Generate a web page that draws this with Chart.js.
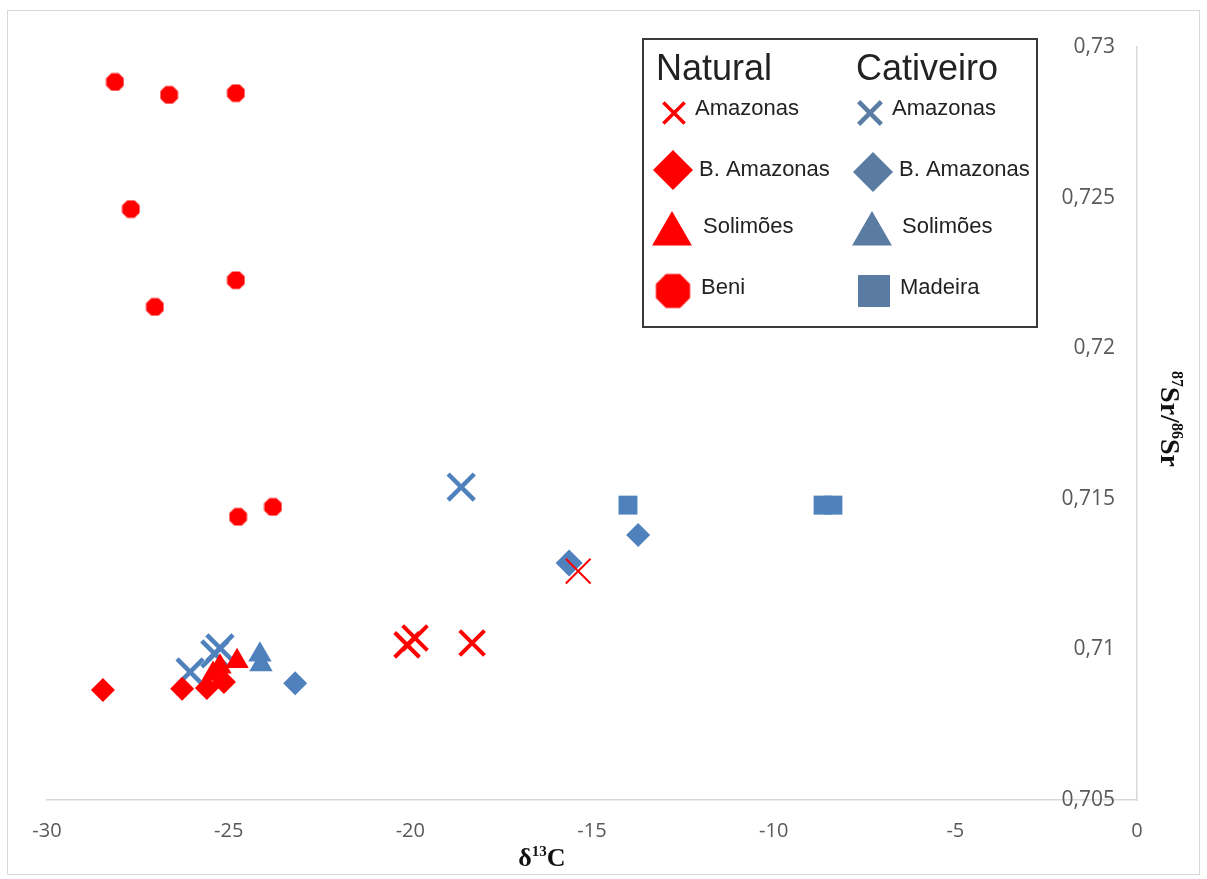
<!DOCTYPE html>
<html>
<head>
<meta charset="utf-8">
<script src="https://cdn.jsdelivr.net/npm/chart.js@4.4.1/dist/chart.umd.min.js"></script>
<style>
  html, body { margin: 0; padding: 0; background: #fff; }
</style>
</head>
<body>
<canvas id="isoChart" width="1207" height="879"></canvas>
<script>
// --- data ---
const xTicks = [-30, -25, -20, -15, -10, -5, 0];
const xTickLabels = ['-30', '-25', '-20', '-15', '-10', '-5', '0'];
const yTicks = [0.705, 0.71, 0.715, 0.72, 0.725, 0.73];
const yTickLabels = ['0,705', '0,71', '0,715', '0,72', '0,725', '0,73'];

// Natural
const natAmazonasX = [-20.09, -19.87, -18.30, -15.38];
const natAmazonasY = [0.71015, 0.71038, 0.71021, 0.71260];
const natBAmazonasX = [-28.46, -26.28, -25.60, -25.13];
const natBAmazonasY = [0.70865, 0.70869, 0.70872, 0.70892];
const natSolimoesX = [-24.77, -25.24, -25.43];
const natSolimoesY = [0.70961, 0.70942, 0.70918];
const natBeniX = [-28.13, -26.64, -24.80, -27.69, -27.03, -24.80, -24.74, -23.78];
const natBeniY = [0.72884, 0.72841, 0.72847, 0.72462, 0.72137, 0.72226, 0.71440, 0.71473];

// Cativeiro
const catAmazonasX = [-18.60, -26.06, -25.24, -25.38];
const catAmazonasY = [0.71539, 0.70925, 0.71005, 0.70985];
const catBAmazonasX = [-23.17, -15.63, -13.73];
const catBAmazonasY = [0.70888, 0.71287, 0.71380];
const catSolimoesX = [-24.14, -24.11];
const catSolimoesY = [0.70982, 0.70950];
const catMadeiraX = [-14.01, -8.64, -8.37];
const catMadeiraY = [0.71479, 0.71479, 0.71479];

const legendNatural = ['Amazonas', 'B. Amazonas', 'Solimões', 'Beni'];
const legendCativeiro = ['Amazonas', 'B. Amazonas', 'Solimões', 'Madeira'];

// colours
const red = '#FF0000';
const blue = '#4F81BD';
const legendBlue = '#5A7CA3';

function pts(xs, ys) {
    return xs.map(function (x, i) { return { x: x, y: ys[i] }; });
}

// octagon marker (no built-in point style for it)
function octagon(d, color) {
    const c = document.createElement('canvas');
    c.width = d; c.height = d;
    const g = c.getContext('2d');
    const r = d / 2;
    g.fillStyle = color;
    g.beginPath();
    for (let i = 0; i < 8; i++) {
        const a = Math.PI / 8 + i * Math.PI / 4;
        const px = r + r * Math.cos(a), py = r + r * Math.sin(a);
        if (i === 0) g.moveTo(px, py); else g.lineTo(px, py);
    }
    g.closePath();
    g.fill();
    return c;
}
const octSmall = octagon(19, red);
const octBig = octagon(37, red);

// custom legend box
const legendBox = {
    id: 'legendBox',
    afterDraw(chart) {
        const ctx = chart.ctx;
        const draw = Chart.helpers.drawPoint;
        ctx.save();
        ctx.fillStyle = '#fff';
        ctx.fillRect(643, 39, 394, 288);
        ctx.lineWidth = 2;
        ctx.strokeStyle = '#3a3a3a';
        ctx.strokeRect(643, 39, 394, 288);

        ctx.fillStyle = '#222';
        ctx.textBaseline = 'alphabetic';
        ctx.font = '36px "Liberation Sans", Arial, sans-serif';
        ctx.fillText('Natural', 656, 80);
        ctx.fillText('Cativeiro', 856, 80);

        const rowY = [113, 170, 230, 291];
        const textY = [109, 170, 227, 288];
        const natTextX = [695, 699, 703, 701];
        const catTextX = [892, 899, 902, 900];

        // natural markers
        ctx.fillStyle = red; ctx.strokeStyle = red;
        ctx.lineWidth = 3.5;
        draw(ctx, { pointStyle: 'crossRot', radius: 15, borderWidth: 3.5, rotation: 0 }, 674, rowY[0]);
        draw(ctx, { pointStyle: 'rectRot', radius: 20, borderWidth: 0, rotation: 0 }, 673, rowY[1]);
        draw(ctx, { pointStyle: 'triangle', radius: 23, borderWidth: 0, rotation: 0 }, 672, rowY[2] + 4);
        draw(ctx, { pointStyle: octBig, radius: 18, rotation: 0 }, 673, rowY[3]);

        // cativeiro markers
        ctx.fillStyle = legendBlue; ctx.strokeStyle = legendBlue;
        ctx.lineWidth = 4.5;
        draw(ctx, { pointStyle: 'crossRot', radius: 16, borderWidth: 4.5, rotation: 0 }, 870, rowY[0]);
        draw(ctx, { pointStyle: 'rectRot', radius: 20, borderWidth: 0, rotation: 0 }, 873, rowY[1] + 2);
        draw(ctx, { pointStyle: 'triangle', radius: 23, borderWidth: 0, rotation: 0 }, 872, rowY[2] + 4);
        draw(ctx, { pointStyle: 'rect', radius: 22.6, borderWidth: 0, rotation: 0 }, 874, rowY[3]);

        ctx.fillStyle = '#222';
        ctx.font = '22px "Liberation Sans", Arial, sans-serif';
        ctx.textBaseline = 'middle';
        legendNatural.forEach(function (t, i) { ctx.fillText(t, natTextX[i], textY[i]); });
        legendCativeiro.forEach(function (t, i) { ctx.fillText(t, catTextX[i], textY[i]); });
        ctx.restore();
    }
};

// axis titles with superscripts + the outer frame
function supText(ctx, parts, x, y, size) {
    const main = 'bold ' + size + 'px "Liberation Serif", "Times New Roman", serif';
    const sup = 'bold ' + Math.round(size * 0.58) + 'px "Liberation Serif", "Times New Roman", serif';
    let w = 0;
    parts.forEach(function (p) { ctx.font = p.sup ? sup : main; w += ctx.measureText(p.t).width; });
    let cx = x - w / 2;
    parts.forEach(function (p) {
        ctx.font = p.sup ? sup : main;
        ctx.fillText(p.t, cx, p.sup ? y - size * 0.4 : y);
        cx += ctx.measureText(p.t).width;
    });
}

const titles = {
    id: 'titles',
    afterDraw(chart) {
        const ctx = chart.ctx;
        ctx.save();
        ctx.strokeStyle = '#d9d9d9';
        ctx.lineWidth = 1;
        ctx.strokeRect(7.5, 10.5, 1192, 864);

        ctx.fillStyle = '#111';
        ctx.textAlign = 'left';
        ctx.textBaseline = 'alphabetic';
        supText(ctx, [{ t: 'δ' }, { t: '13', sup: true }, { t: 'C' }], 542, 866, 26);

        ctx.translate(1161, 419);
        ctx.rotate(Math.PI / 2);
        supText(ctx, [{ t: '87', sup: true }, { t: 'Sr/' }, { t: '86', sup: true }, { t: 'Sr' }], 0, 0, 28);
        ctx.restore();
    }
};

const ctx = document.getElementById('isoChart').getContext('2d');
new Chart(ctx, {
    type: 'scatter',
    data: {
        datasets: [
            {
                label: 'Natural Amazonas',
                data: pts(natAmazonasX, natAmazonasY),
                pointStyle: 'crossRot',
                pointRadius: 17.5,
                pointBorderWidth: [4, 4, 4, 2],
                borderColor: red,
                backgroundColor: red
            },
            {
                label: 'Natural B. Amazonas',
                data: pts(natBAmazonasX, natBAmazonasY),
                pointStyle: 'rectRot',
                pointRadius: 12,
                pointBorderWidth: 0,
                borderColor: red,
                backgroundColor: red
            },
            {
                label: 'Natural Solimões',
                data: pts(natSolimoesX, natSolimoesY),
                pointStyle: 'triangle',
                pointRadius: 13.5,
                pointBorderWidth: 0,
                borderColor: red,
                backgroundColor: red
            },
            {
                label: 'Natural Beni',
                data: pts(natBeniX, natBeniY),
                pointStyle: octSmall,
                pointRadius: 9,
                borderColor: red,
                backgroundColor: red
            },
            {
                label: 'Cativeiro Amazonas',
                data: pts(catAmazonasX, catAmazonasY),
                pointStyle: 'crossRot',
                pointRadius: 18.5,
                pointBorderWidth: 4.5,
                borderColor: blue,
                backgroundColor: blue
            },
            {
                label: 'Cativeiro B. Amazonas',
                data: pts(catBAmazonasX, catBAmazonasY),
                pointStyle: 'rectRot',
                pointRadius: [12, 13.5, 12],
                pointBorderWidth: 0,
                borderColor: blue,
                backgroundColor: blue
            },
            {
                label: 'Cativeiro Solimões',
                data: pts(catSolimoesX, catSolimoesY),
                pointStyle: 'triangle',
                pointRadius: 13.5,
                pointBorderWidth: 0,
                borderColor: blue,
                backgroundColor: blue
            },
            {
                label: 'Cativeiro Madeira',
                data: pts(catMadeiraX, catMadeiraY),
                pointStyle: 'rect',
                pointRadius: 13.4,
                pointBorderWidth: 0,
                borderColor: blue,
                backgroundColor: blue
            }
        ]
    },
    options: {
        responsive: false,
        animation: false,
        layout: {
            padding: { left: 47, top: 47, right: 0, bottom: 0 }
        },
        plugins: {
            legend: { display: false },
            tooltip: { enabled: false }
        },
        scales: {
            x: {
                type: 'linear',
                position: 'bottom',
                min: -30,
                max: 0,
                afterBuildTicks: function (s) { s.ticks = xTicks.map(function (v) { return { value: v }; }); },
                afterFit: function (s) { s.height = 79; },
                grid: { display: false, drawTicks: false },
                border: { color: '#d9d9d9', width: 1.5 },
                ticks: {
                    color: '#595959',
                    padding: 19,
                    font: { family: 'Open Sans', size: 20 },
                    callback: function (v) { return xTickLabels[xTicks.indexOf(v)]; }
                }
            },
            y: {
                type: 'linear',
                position: 'right',
                min: 0.705,
                max: 0.73,
                afterBuildTicks: function (s) { s.ticks = yTicks.map(function (v) { return { value: v }; }); },
                afterFit: function (s) { s.width = 70; },
                grid: { display: false, drawTicks: false },
                border: { color: '#d9d9d9', width: 1.5 },
                ticks: {
                    mirror: true,
                    color: '#595959',
                    padding: -22,
                    font: { family: 'Open Sans', size: 21 },
                    callback: function (v) {
                        const i = yTicks.findIndex(function (t) { return Math.abs(t - v) < 1e-6; });
                        return yTickLabels[i];
                    }
                }
            }
        }
    },
    plugins: [legendBox, titles]
});
</script>
</body>
</html>
